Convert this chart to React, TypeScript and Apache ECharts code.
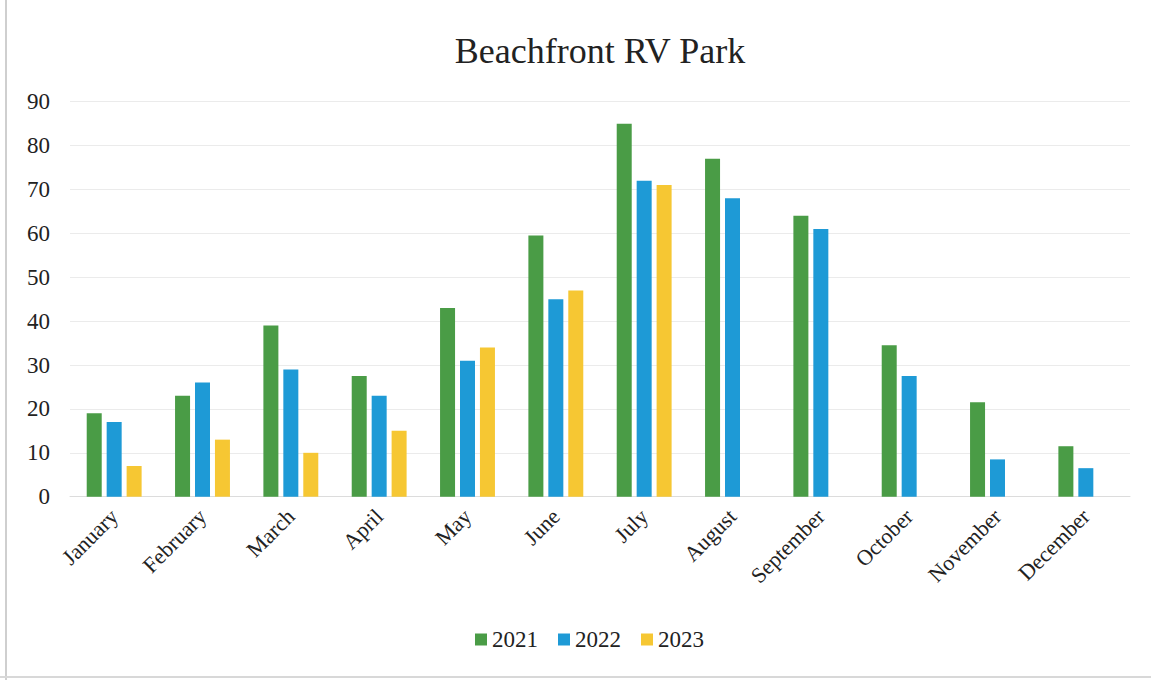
import React, { useEffect, useRef } from "react";
import * as echarts from "echarts";

const months = ["January", "February", "March", "April", "May", "June", "July", "August", "September", "October", "November", "December"];
const s2021 = [19, 23, 39, 27.5, 43, 59.5, 85, 77, 64, 34.5, 21.5, 11.5];
const s2022 = [17, 26, 29, 23, 31, 45, 72, 68, 61, 27.5, 8.5, 6.5];
const s2023 = [7, 13, 10, 15, 34, 47, 71, null, null, null, null, null];
const seriesNames = ["2021", "2022", "2023"];
const colors = ["#4a9c46", "#1e9ad6", "#f6c733"];
const yTicks = { min: 0, max: 90, interval: 10 };

export default function App() {
  const ref = useRef<HTMLDivElement>(null);
  useEffect(() => {
    document.body.style.margin = "0";
    const chart = echarts.init(ref.current!, null, { renderer: "svg" });
    const font = "Liberation Serif";
    const data = [s2021, s2022, s2023];
    chart.setOption({
      animation: false,
      backgroundColor: "#ffffff",
      textStyle: { fontFamily: font },
      title: {
        text: "Beachfront RV Park",
        left: 595,
        textAlign: "center",
        top: 28,
        textStyle: { fontFamily: font, fontSize: 36, fontWeight: "normal", color: "#222" },
      },
      legend: {
        bottom: 24,
        left: 470,
        itemWidth: 12,
        itemHeight: 12,
        itemGap: 20,
        icon: "rect",
        textStyle: { fontFamily: font, fontSize: 23, color: "#222" },
        data: seriesNames,
      },
      grid: { left: 70, right: 21, top: 101.7, bottom: 183.3, containLabel: false },
      xAxis: {
        type: "category",
        data: months,
        axisTick: { show: false },
        axisLine: { show: true, lineStyle: { color: "#dcdcdc" } },
        axisLabel: { rotate: 45, fontFamily: font, fontSize: 22, color: "#222", margin: 16, interval: 0 },
      },
      yAxis: {
        type: "value",
        min: yTicks.min,
        max: yTicks.max,
        interval: yTicks.interval,
        axisLine: { show: false },
        axisTick: { show: false },
        splitLine: { lineStyle: { color: "#ebebeb" } },
        axisLabel: { fontFamily: font, fontSize: 23, color: "#222", margin: 20 },
      },
      graphic: [
        { type: "line", shape: { x1: 6, y1: 0, x2: 6, y2: 680 }, style: { stroke: "#cfcfcf", lineWidth: 2 } },
        { type: "line", shape: { x1: 0, y1: 677, x2: 1151, y2: 677 }, style: { stroke: "#d8d8d8", lineWidth: 2 } },
      ],
      series: seriesNames.map((name, i) => ({
        name,
        type: "bar",
        data: data[i],
        barWidth: 15,
        barGap: "33%",
        itemStyle: { color: colors[i] },
      })),
    });
    return () => chart.dispose();
  }, []);
  return <div ref={ref} style={{ width: 1151, height: 680 }} />;
}
